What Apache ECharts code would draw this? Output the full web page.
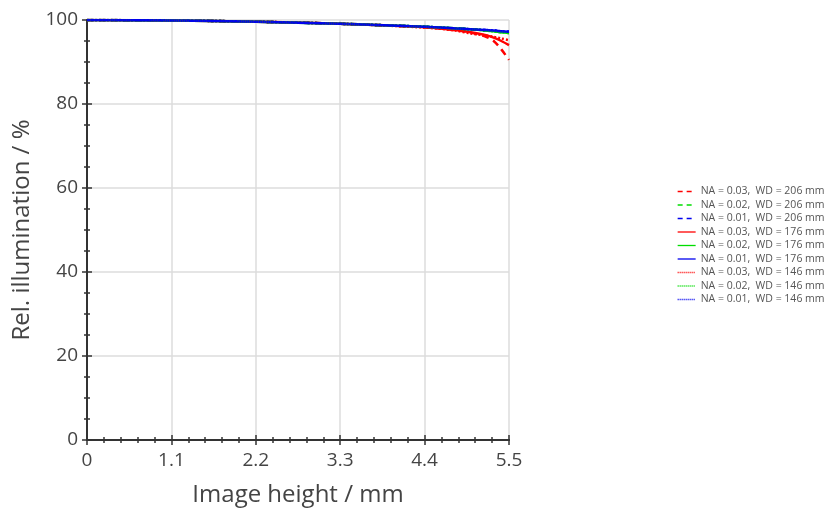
<!DOCTYPE html>
<html>
<head>
<meta charset="utf-8">
<script src="https://cdn.jsdelivr.net/npm/echarts@6/dist/echarts.min.js"></script>
<style>
  html, body { margin: 0; padding: 0; background: #fff; }
  #main { width: 829px; height: 512px; }
</style>
</head>
<body>
<div id="main"></div>
<script>
// image height (mm)
var imageHeight = [0, 1.1, 2.2, 3.3, 4.4, 4.8, 5.0, 5.2, 5.3, 5.4, 5.5];

// relative illumination (%) per NA / working distance
var na03wd206 = [100, 99.9, 99.6, 99.1, 98.3, 97.6, 97.0, 96.0, 95.0, 93.0, 90.5];
var na02wd206 = [100, 99.9, 99.6, 99.1, 98.4, 98.0, 97.8, 97.5, 97.3, 97.1, 96.9];
var na01wd206 = [100, 99.9, 99.6, 99.1, 98.4, 98.0, 97.8, 97.6, 97.5, 97.3, 97.2];
var na03wd176 = [100, 99.9, 99.6, 99.1, 98.3, 97.6, 97.1, 96.4, 95.8, 95.0, 94.0];
var na02wd176 = [100, 99.9, 99.6, 99.1, 98.4, 98.0, 97.8, 97.5, 97.3, 97.1, 96.9];
var na01wd176 = [100, 99.9, 99.6, 99.1, 98.4, 98.0, 97.8, 97.6, 97.5, 97.3, 97.2];
var na03wd146 = [100, 99.9, 99.6, 99.1, 98.2, 97.5, 96.8, 96.3, 96.0, 95.6, 95.2];
var na02wd146 = [100, 99.9, 99.6, 99.1, 98.4, 98.0, 97.8, 97.5, 97.3, 97.1, 96.9];
var na01wd146 = [100, 99.9, 99.6, 99.1, 98.4, 98.0, 97.8, 97.6, 97.5, 97.3, 97.2];

var font = '"Open Sans", Lato, sans-serif';

function pairs(ys) {
    return imageHeight.map(function (x, i) { return [x, ys[i]]; });
}

var series = [];
var legendItems = [];

function line(name, ys, color, type, legendType) {
    series.push({
        name: name,
        type: 'line',
        data: pairs(ys),
        showSymbol: false,
        symbol: 'none',
        smooth: 0.3,
        lineStyle: { color: color, width: 2.5, type: type },
        itemStyle: { color: color }
    });
    legendItems.push({
        name: name,
        itemStyle: { color: 'transparent', borderColor: 'transparent', borderWidth: 0 },
        lineStyle: { color: color, width: 1.3, type: legendType }
    });
}

line('NA = 0.03,  WD = 206 mm', na03wd206, '#ff0000', [7, 5], [5, 4]);
line('NA = 0.02,  WD = 206 mm', na02wd206, '#00dd00', [7, 5], [5, 4]);
line('NA = 0.01,  WD = 206 mm', na01wd206, '#0000ee', [7, 5], [5, 4]);
line('NA = 0.03,  WD = 176 mm', na03wd176, '#ff0000', 'solid', 'solid');
line('NA = 0.02,  WD = 176 mm', na02wd176, '#00dd00', 'solid', 'solid');
line('NA = 0.01,  WD = 176 mm', na01wd176, '#0000ee', 'solid', 'solid');
line('NA = 0.03,  WD = 146 mm', na03wd146, '#ff0000', [2, 2], [1, 1]);
line('NA = 0.02,  WD = 146 mm', na02wd146, '#00dd00', [2, 2], [1, 1]);
line('NA = 0.01,  WD = 146 mm', na01wd146, '#0000ee', [2, 2], [1, 1]);

var axisLine = { show: true, lineStyle: { color: '#333', width: 2 } };
var axisTick = { show: true, inside: true, length: 5, lineStyle: { color: '#333', width: 1.5 } };
var minorTick = { show: true, length: 3, lineStyle: { color: '#333', width: 1.5 } };

var chart = echarts.init(document.getElementById('main'));
chart.setOption({
    animation: false,
    textStyle: { fontFamily: font },
    grid: { left: 87, right: 320, top: 20, bottom: 72 },
    legend: {
        orient: 'vertical',
        left: 672,
        top: 181,
        itemWidth: 18,
        itemHeight: 10,
        itemGap: 2.5,
        textStyle: { fontSize: 10.5, color: '#555', fontFamily: font },
        data: legendItems
    },
    xAxis: [{
        type: 'value', min: 0, max: 5.5, interval: 1.1,
        name: 'Image height / mm', nameLocation: 'middle', nameGap: 43,
        nameTextStyle: { fontSize: 24, color: '#444' },
        axisLine: axisLine, axisTick: axisTick,
        minorTick: Object.assign({ splitNumber: 5 }, minorTick),
        axisLabel: {
            fontSize: 19, color: '#444', margin: 11,
            formatter: function (v) { return v === 0 ? '0' : v.toFixed(1); }
        },
        splitLine: { show: true, lineStyle: { color: '#dcdcdc', width: 1.5 } }
    }, {
        type: 'value', position: 'top', min: 0, max: 5.5, interval: 1.1,
        axisLine: axisLine, axisTick: axisTick,
        minorTick: Object.assign({ splitNumber: 5 }, minorTick),
        axisLabel: { show: false }, splitLine: { show: false }
    }],
    yAxis: [{
        type: 'value', min: 0, max: 100, interval: 20,
        name: 'Rel. illumination / %', nameLocation: 'middle', nameGap: 52,
        nameTextStyle: { fontSize: 24, color: '#444' },
        axisLine: axisLine, axisTick: axisTick,
        minorTick: Object.assign({ splitNumber: 4 }, minorTick),
        axisLabel: { fontSize: 19, color: '#444', margin: 9 },
        splitLine: { show: true, lineStyle: { color: '#dcdcdc', width: 1.5 } }
    }, {
        type: 'value', position: 'right', min: 0, max: 100, interval: 20,
        axisLine: axisLine, axisTick: axisTick,
        minorTick: Object.assign({ splitNumber: 4 }, minorTick),
        axisLabel: { show: false }, splitLine: { show: false }
    }],
    series: series
});
</script>
</body>
</html>
